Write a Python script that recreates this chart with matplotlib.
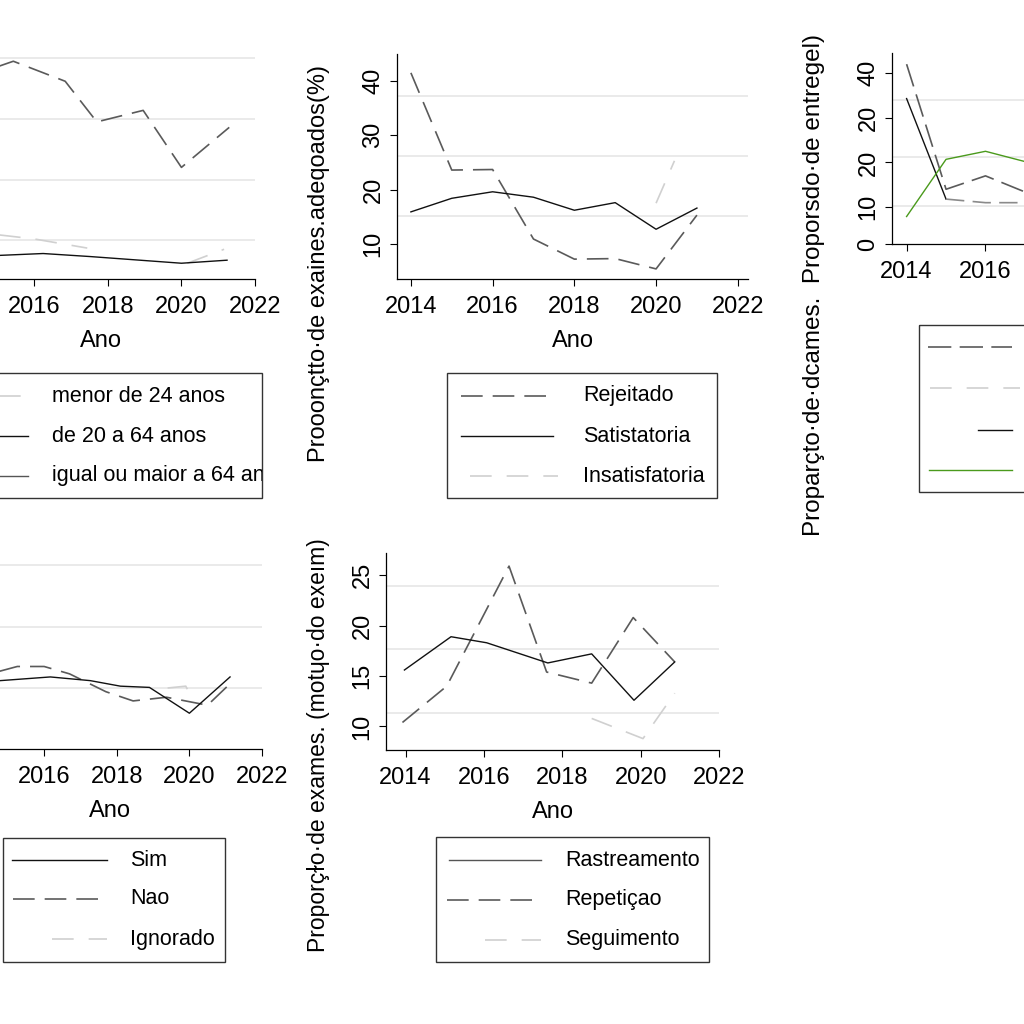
import matplotlib
matplotlib.use('Agg')
import matplotlib.pyplot as plt
import numpy as np
from matplotlib.lines import Line2D
from matplotlib.patches import Rectangle
from matplotlib.transforms import Bbox, TransformedBbox

plt.rcParams['font.family'] = ['Liberation Sans', 'DejaVu Sans']

# ---------------- data ----------------
xticks_years = [2014, 2016, 2018, 2020, 2022]

# panel 1: age groups
p1_labels = ['menor de 24 anos', 'de 20 a 64 anos', 'igual ou maior a 64 anos']
p1_young_x = [2014.0, 2015.0, 2016.0, 2017.44, np.nan, 2020.16, 2021.16]
p1_young_y = [11.3, 10.9, 10.2, 8.7, np.nan, 6.2, 8.5]
p1_mid_x = [2014.0, 2015.08, 2016.24, 2017.52, 2020.0, 2021.24]
p1_mid_y = [7.2, 7.5, 7.8, 7.3, 6.2, 6.7]
p1_old_x = [2014.0, 2015.43, 2016.84, 2017.7, 2018.96, 2020.0, 2021.3]
p1_old_y = [36.5, 39.5, 36.2, 29.5, 31.4, 22.0, 28.6]

# panel 2: adequacy
p2_labels = ['Rejeitado', 'Satistatoria', 'Insatisfatoria']
p2_years = [2014, 2015, 2016, 2017, 2018, 2019, 2020, 2021]
p2_rejeitado = [41.5, 23.6, 23.7, 10.9, 7.2, 7.3, 5.4, 15.3]
p2_satisf = [15.9, 18.4, 19.6, 18.6, 16.2, 17.6, 12.7, 16.6]
p2_insat_x = [2020.0, 2020.45]
p2_insat_y = [17.5, 25.3]
p2_ylabel = 'Prooonçtto·de exaines.adeqoados(%)'

# panel 3: delivery
p3_years = [2014, 2015, 2016, 2017, 2018]
p3_a = [42.0, 14.0, 17.0, 13.4, 12.5]
p3_b = [np.nan, 11.8, 11.0, 11.0, 11.2]
p3_c = [34.3, 11.8, np.nan, np.nan, np.nan]
p3_green = [7.9, 20.7, 22.5, 20.2, 19.0]
p3_yticklabels = ['0', '10', '20', '20', '40']
p3_ylabel = 'Proparçto·de·dcames.  Proporsdo·de entregel)'

# panel 4: Sim / Nao / Ignorado
p4_labels = ['Sim', 'Nao', 'Ignorado']
p4_sim_x = [2014.0, 2014.79, 2016.17, 2017.27, 2018.1, 2018.9, 2020.0, 2021.12]
p4_sim_y = [10.6, 11.2, 11.8, 11.2, 10.3, 10.1, 5.9, 11.8]
p4_nao_x = [2014.0, 2015.26, 2016.0, 2016.7, 2017.7, 2018.45, 2019.37, 2020.5, 2021.12]
p4_nao_y = [11.5, 13.5, 13.5, 12.3, 9.4, 7.9, 8.5, 7.2, 10.7]
p4_ign_x = [2019.4, 2019.9, 2020.05]
p4_ign_y = [10.0, 10.3, 8.6]

# panel 5: reason for exam
p5_labels = ['Rastreamento', 'Repetiçao', 'Seguimento']
p5_rast_x = [2013.97, 2015.16, 2016.07, 2017.63, 2018.75, 2019.83, 2020.87]
p5_rast_y = [15.6, 18.9, 18.3, 16.3, 17.2, 12.6, 16.4]
p5_rep_x = [2013.92, 2015.05, 2016.64, 2017.6, 2018.75, 2019.81, 2020.87]
p5_rep_y = [10.4, 14.0, 25.9, 15.4, 14.3, 20.8, 16.4]
p5_seg_x = [2018.75, 2020.06, 2020.87]
p5_seg_y = [10.8, 8.8, 13.3]
p5_ylabel = 'Proporçɫo·de exames. (motɥo·do exeım)'

# ---------------- styles ----------------
DARK = dict(color='#5a5a5a', lw=1.2, ls=(0, (13, 6)))
DARK_LONG = dict(color='#5a5a5a', lw=1.2, ls=(0, (14, 5)))
BLACK = dict(color='#111111', lw=1.0, ls='-')
GREYSOLID = dict(color='#555555', lw=1.0, ls='-')
LIGHT = dict(color='#d0d0d0', lw=1.2, ls=(0, (13, 9)))
MID = dict(color='#8a8a8a', lw=1.2, ls=(0, (11, 5)))
GREEN = dict(color='#4a9a1c', lw=1.0, ls='-')
GRID = '#e6e6e6'

W = H = 1024
fig = plt.figure(figsize=(10.24, 10.24), dpi=100)


def rect(l, t, r, b):
    return [l / W, 1 - b / H, (r - l) / W, (b - t) / H]


ov = fig.add_axes([0, 0, 1, 1])
ov.set_xlim(0, W)
ov.set_ylim(H, 0)
ov.axis('off')
ov.set_zorder(10)


def panel(box, xlim, ylim, grid_y, yticks=None, yticklabels=None):
    ax = fig.add_axes(rect(*box))
    ax.patch.set_visible(False)
    ax.set_xlim(xlim)
    ax.set_ylim(ylim)
    ax.spines['top'].set_visible(False)
    ax.spines['right'].set_visible(False)
    for s in ('left', 'bottom'):
        ax.spines[s].set_linewidth(0.9)
    for g in grid_y:
        ax.axhline(g, color=GRID, lw=1.2, zorder=0)
    ax.set_xticks(xticks_years)
    ax.tick_params(direction='out', length=5, width=0.8, labelsize=17)
    ax.tick_params(axis='x', pad=7)
    ax.tick_params(axis='y', pad=4)
    if yticks is None:
        ax.set_yticks([])
    else:
        ax.set_yticks(yticks)
        if yticklabels is not None:
            ax.set_yticklabels(yticklabels)
        for lab in ax.get_yticklabels():
            lab.set_rotation(90)
            lab.set_va('center')
            lab.set_ha('right')
    ax.set_xlabel('Ano', fontsize=17, labelpad=9)
    return ax


def ylab(ax, text, x, y, size=17):
    ax.set_ylabel(text, fontsize=size, va='center', ha='center')
    ax.yaxis.set_label_coords(x, y, transform=ov.transData)


def legend(box, rows, text_x, entries, size=15.5):
    l, t, r, b = box
    rp = Rectangle((l, t), r - l, b - t, fill=False, ec='#333333', lw=1.0)
    ov.add_patch(rp)
    clip = TransformedBbox(Bbox.from_extents(l / W, 1 - b / H, r / W, 1 - t / H),
                           fig.transFigure)
    for y, (label, style, x0, x1) in zip(rows, entries):
        ov.add_line(Line2D([x0, x1], [y, y], **style))
        if label:
            txt = ov.text(text_x, y, label, fontsize=size, va='center', ha='left',
                          clip_on=True)
            txt.set_clip_box(clip)


# ---- panel 1
ax1 = panel((-54, 20, 255, 279), (2013.6, 2022), (3.6, 46.3), [10, 20, 30, 40])
ax1.plot(p1_old_x, p1_old_y, **DARK)
ax1.plot(p1_young_x, p1_young_y, **LIGHT)
ax1.plot(p1_mid_x, p1_mid_y, **BLACK)
legend((-10, 373, 262, 498), [396, 436, 476], 52,
       [(p1_labels[0], LIGHT, -12, 35), (p1_labels[1], BLACK, -10, 28),
        (p1_labels[2], GREYSOLID, -10, 28)])

# ---- panel 2
ax2 = panel((397, 54, 748, 279), (2013.66, 2022.25), (3.54, 44.97), [37.2, 26.2, 15.1],
            yticks=[10, 20, 30, 40])
ax2.plot(p2_years, p2_rejeitado, **DARK)
ax2.plot(p2_years, p2_satisf, **BLACK)
ax2.plot(p2_insat_x, p2_insat_y, **LIGHT)
ylab(ax2, p2_ylabel, 319, 264)
legend((447, 373, 717, 498), [396, 436, 476], 583,
       [(p2_labels[0], DARK, 461, 553), (p2_labels[1], BLACK, 461, 553),
        (p2_labels[2], LIGHT, 470, 558)])

# ---- panel 3
ax3 = panel((892, 53, 1232, 244), (2013.63, 2022.25), (1.75, 44.5), [34.0, 21.2, 10.2],
            yticks=[1.75, 10, 20, 30, 40], yticklabels=p3_yticklabels)
ax3.plot(p3_years, p3_c, **BLACK)
ax3.plot(p3_years, p3_b, **MID)
ax3.plot(p3_years, p3_a, **DARK_LONG)
ax3.plot(p3_years, p3_green, **GREEN)
ylab(ax3, p3_ylabel, 814, 285, size=17.5)
legend((919, 325, 1100, 492), [347, 388, 430, 470], 1040,
       [('', DARK_LONG, 928, 1012), ('', LIGHT, 930, 1020),
        ('', BLACK, 978, 1012), ('', GREEN, 929, 1012)])

# ---- panel 4
ax4 = panel((-43, 530, 262, 749), (2013.6, 2022), (0.08, 35.7), [30, 20, 10])
ax4.plot(p4_nao_x, p4_nao_y, **DARK)
ax4.plot(p4_ign_x, p4_ign_y, **LIGHT)
ax4.plot(p4_sim_x, p4_sim_y, **BLACK)
legend((3, 838, 225, 962), [860, 899, 939], 130,
       [(p4_labels[0], BLACK, 12, 107), (p4_labels[1], DARK, 13, 107),
        (p4_labels[2], LIGHT, 52, 107)])

# ---- panel 5
ax5 = panel((386, 553, 719, 750), (2013.5, 2022), (7.67, 27.2), [23.96, 17.7, 11.3],
            yticks=[10, 15, 20, 25])
ax5.plot(p5_rep_x, p5_rep_y, **DARK)
ax5.plot(p5_seg_x, p5_seg_y, **LIGHT)
ax5.plot(p5_rast_x, p5_rast_y, **BLACK)
ylab(ax5, p5_ylabel, 318, 745, size=16.5)
legend((436, 837, 709, 962), [860, 900, 940], 565,
       [(p5_labels[0], GREYSOLID, 449, 541), (p5_labels[1], DARK, 447, 541),
        (p5_labels[2], LIGHT, 485, 541)])

fig.savefig('out.png', dpi=100)
